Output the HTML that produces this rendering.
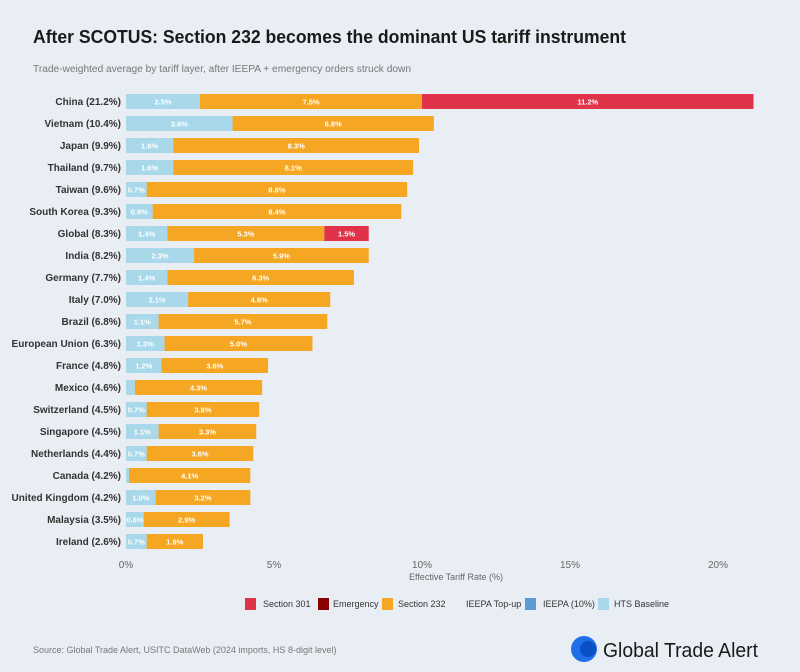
<!DOCTYPE html>
<html><head><meta charset="utf-8"><style>
body{margin:0;width:800px;height:667px;background:#e9eef5;font-family:"Liberation Sans",sans-serif;overflow:hidden}
</style></head><body>
<svg width="800" height="667" xmlns="http://www.w3.org/2000/svg" font-family="Liberation Sans, sans-serif">
<rect width="800" height="667" fill="#e9eef5"/>
<text x="33" y="43" font-size="18" font-weight="bold" fill="#1a1a1a" textLength="593" lengthAdjust="spacingAndGlyphs">After SCOTUS: Section 232 becomes the dominant US tariff instrument</text>
<text x="33" y="72" font-size="10" fill="#777" textLength="378" lengthAdjust="spacingAndGlyphs">Trade-weighted average by tariff layer, after IEEPA + emergency orders struck down</text>
<g id="bars"></g>
<g font-size="10" fill="#666" text-anchor="middle">
<text x="126" y="568">0%</text><text x="274" y="568">5%</text><text x="422" y="568">10%</text><text x="570" y="568">15%</text><text x="718" y="568">20%</text>
<text x="456" y="580" font-size="9">Effective Tariff Rate (%)</text>
</g>
<g font-size="9" fill="#333">
<rect x="245" y="598" width="11" height="12" fill="#e0334a"/><text x="263" y="607">Section 301</text>
<rect x="318" y="598" width="11" height="12" fill="#8b0000"/><text x="333" y="607">Emergency</text>
<rect x="382" y="598" width="11" height="12" fill="#f5a623"/><text x="398" y="607">Section 232</text>
<text x="466" y="607">IEEPA Top-up</text>
<rect x="525" y="598" width="11" height="12" fill="#5b9bd5"/><text x="543" y="607">IEEPA (10%)</text>
<rect x="598" y="598" width="11" height="12" fill="#a8d8ea"/><text x="614" y="607">HTS Baseline</text>
</g>
<text x="33" y="653" font-size="9" fill="#777">Source: Global Trade Alert, USITC DataWeb (2024 imports, HS 8-digit level)</text>
<circle cx="584" cy="649" r="13" fill="#1e6fe8"/><circle cx="588" cy="649" r="8" fill="#0b4fc4"/>
<text x="603" y="657" font-size="20" fill="#1a1a1a" textLength="155" lengthAdjust="spacingAndGlyphs">Global Trade Alert</text>
</svg>
<script>
const d=[["China (21.2%)",2.5,7.5,11.2],["Vietnam (10.4%)",3.6,6.8,0],["Japan (9.9%)",1.6,8.3,0],["Thailand (9.7%)",1.6,8.1,0],["Taiwan (9.6%)",0.7,8.8,0],["South Korea (9.3%)",0.9,8.4,0],["Global (8.3%)",1.4,5.3,1.5],["India (8.2%)",2.3,5.9,0],["Germany (7.7%)",1.4,6.3,0],["Italy (7.0%)",2.1,4.8,0],["Brazil (6.8%)",1.1,5.7,0],["European Union (6.3%)",1.3,5.0,0],["France (4.8%)",1.2,3.6,0],["Mexico (4.6%)",0.3,4.3,0,1],["Switzerland (4.5%)",0.7,3.8,0],["Singapore (4.5%)",1.1,3.3,0],["Netherlands (4.4%)",0.7,3.6,0],["Canada (4.2%)",0.1,4.1,0,1],["United Kingdom (4.2%)",1.0,3.2,0],["Malaysia (3.5%)",0.6,2.9,0],["Ireland (2.6%)",0.7,1.9,0]];
const k=29.6,x0=126;let s="";
d.forEach((r,i)=>{const y=94+i*22;let x=x0;
s+=`<text x="121" y="${y+11}" font-size="10" font-weight="bold" fill="#333" text-anchor="end">${r[0]}</text>`;
[[r[1],"#a8d8ea"],[r[2],"#f5a623"],[r[3],"#e0334a"]].forEach((v,j)=>{if(!v[0])return;const w=v[0]*k;
s+=`<rect x="${x}" y="${y}" width="${w}" height="15" fill="${v[1]}"/>`;
if(!(j==0&&r[4]))s+=`<text x="${x+w/2}" y="${y+10.5}" font-size="7.5" font-weight="bold" fill="#fff" text-anchor="middle">${v[0].toFixed(1)}%</text>`;x+=w;});});
document.getElementById("bars").innerHTML=s;
</script>
</body></html>
